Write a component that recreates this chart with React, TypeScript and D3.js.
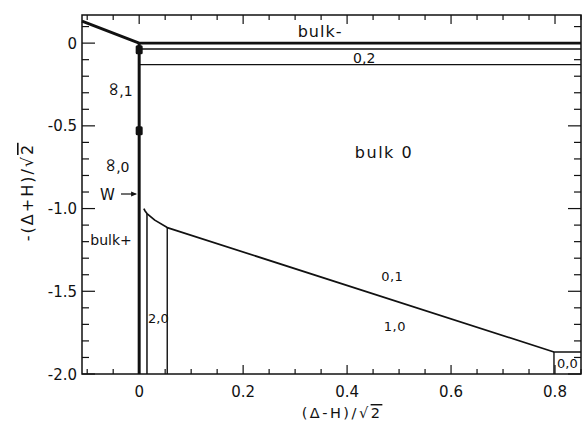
import { useEffect, useRef } from 'react';
import * as d3 from 'd3';

const xDomain = [-0.11, 0.85];
const yDomain = [-2.0, 0.17];
const xTickValues = [0, 0.2, 0.4, 0.6, 0.8];
const xTickLabels = ['0', '0.2', '0.4', '0.6', '0.8'];
const yTickValues = [0, -0.5, -1.0, -1.5, -2.0];
const yTickLabels = ['0', '-0.5', '-1.0', '-1.5', '-2.0'];

// phase boundaries, [x, y] in data units
const bulkMinusLine = [[-0.11, 0.133], [0, 0], [0.85, 0]];
const wallLine = [[0, 0], [0, -2.0]];
const line21 = [[0, -0.035], [0.85, -0.035]];
const line02 = [[0, -0.13], [0.85, -0.13]];
const lowerBoundary = [
  [0.009, -1.0], [0.011, -1.013], [0.015, -1.03], [0.03, -1.07],
  [0.054, -1.115], [0.798, -1.867], [0.85, -1.867],
];
const line20Left = [[0.015, -1.03], [0.015, -2.0]];
const line20Right = [[0.054, -1.115], [0.054, -2.0]];
const line00 = [[0.798, -1.867], [0.798, -2.0]];
const markers = [[0, -0.04], [0, -0.53]];

const labels = [
  { text: 'bulk-', x: 0.348, y: 0.036, size: 16, spacing: 1 },
  { text: '0,2', x: 0.433, y: -0.12, size: 14, spacing: 0 },
  { text: 'bulk 0', x: 0.471, y: -0.695, size: 16, spacing: 1.5 },
  { text: '2,0', x: 0.037, y: -1.69, size: 13, spacing: 0 },
  { text: '0,1', x: 0.487, y: -1.438, size: 13, spacing: 0.5 },
  { text: '1,0', x: 0.492, y: -1.74, size: 13, spacing: 0.5 },
];
const infLabels = [
  { rest: ',1', x: -0.046, y: -0.278 },
  { rest: ',0', x: -0.052, y: -0.737 },
];

export default function App() {
  const svgRef = useRef<SVGSVGElement>(null);
  const width = 582;
  const height = 424;

  useEffect(() => {
    const svg = d3.select(svgRef.current);
    svg.selectAll('*').remove();

    const x = d3.scaleLinear().domain(xDomain).range([82, 581]);
    const y = d3.scaleLinear().domain(yDomain).range([374, 15]);
    const font = 'DejaVu Sans, Verdana, sans-serif';
    const ink = '#111';

    const g = svg.append('g');

    // frame
    g.append('rect')
      .attr('x', x(xDomain[0])).attr('y', y(yDomain[1]))
      .attr('width', x(xDomain[1]) - x(xDomain[0]))
      .attr('height', y(yDomain[0]) - y(yDomain[1]))
      .attr('fill', 'none').attr('stroke', ink).attr('stroke-width', 1.5);

    // ticks (inward)
    const xMinor = d3.range(-0.1, 0.851, 0.05);
    const yMinor = d3.range(-2.0, 0.151, 0.1);
    const isMajorX = (v: number) => Math.abs(Math.round(v * 5) - v * 5) < 1e-6;
    const isMajorY = (v: number) => Math.abs(Math.round(v * 2) - v * 2) < 1e-6;

    xMinor.forEach(v => {
      const len = isMajorX(v) ? 9 : 5;
      g.append('line').attr('x1', x(v)).attr('x2', x(v))
        .attr('y1', y(yDomain[0])).attr('y2', y(yDomain[0]) - len)
        .attr('stroke', ink).attr('stroke-width', 1.2);
      g.append('line').attr('x1', x(v)).attr('x2', x(v))
        .attr('y1', y(yDomain[1])).attr('y2', y(yDomain[1]) + len)
        .attr('stroke', ink).attr('stroke-width', 1.2);
    });
    yMinor.forEach(v => {
      const len = isMajorY(v) ? 13 : 7;
      g.append('line').attr('x1', x(xDomain[0])).attr('x2', x(xDomain[0]) + len)
        .attr('y1', y(v)).attr('y2', y(v))
        .attr('stroke', ink).attr('stroke-width', 1.2);
      g.append('line').attr('x1', x(xDomain[1])).attr('x2', x(xDomain[1]) - len)
        .attr('y1', y(v)).attr('y2', y(v))
        .attr('stroke', ink).attr('stroke-width', 1.2);
    });

    // tick labels
    g.selectAll('.xl').data(xTickValues).join('text')
      .attr('x', d => x(d)).attr('y', 397)
      .attr('text-anchor', 'middle').attr('font-family', font).attr('font-size', 15)
      .attr('fill', ink)
      .text((d, i) => xTickLabels[i]);
    g.selectAll('.yl').data(yTickValues).join('text')
      .attr('x', 77).attr('y', d => y(d) + 5.5)
      .attr('text-anchor', 'end').attr('font-family', font).attr('font-size', 15)
      .attr('fill', ink)
      .text((d, i) => yTickLabels[i]);

    // axis titles
    const xt = g.append('text').attr('x', 342).attr('y', 418)
      .attr('text-anchor', 'middle').attr('font-family', font).attr('font-size', 14.5)
      .attr('letter-spacing', 2.5).attr('fill', ink);
    xt.append('tspan').text('(Δ-H)/√');
    xt.append('tspan').style('text-decoration', 'overline').text('2');
    const yt = g.append('text')
      .attr('transform', 'translate(33,192) rotate(-90)')
      .attr('text-anchor', 'middle').attr('font-family', font).attr('font-size', 16)
      .attr('letter-spacing', 2).attr('fill', ink);
    yt.append('tspan').text('-(Δ+H)/√');
    yt.append('tspan').style('text-decoration', 'overline').text('2');

    // lines
    const line = d3.line<number[]>().x(d => x(d[0])).y(d => y(d[1]));
    const draw = (pts: number[][], w: number) =>
      g.append('path').attr('d', line(pts)).attr('fill', 'none')
        .attr('stroke', ink).attr('stroke-width', w).attr('stroke-linejoin', 'round');

    draw(bulkMinusLine, 2.8);
    draw(line21, 1.5);
    draw(line02, 1.4);
    draw(lowerBoundary, 1.7);
    draw(line20Left, 1.5);
    draw(line20Right, 1.4);
    draw(line00, 1.4);
    draw(wallLine, 3);

    g.selectAll('.mk').data(markers).join('rect')
      .attr('x', d => x(d[0]) - 3.5).attr('y', d => y(d[1]) - 4.5)
      .attr('width', 7).attr('height', 9).attr('rx', 1.5)
      .attr('fill', ink);

    // region labels
    g.selectAll('.lab').data(labels).join('text')
      .attr('x', d => x(d.x)).attr('y', d => y(d.y))
      .attr('text-anchor', 'middle').attr('font-family', font)
      .attr('font-size', d => d.size)
      .attr('letter-spacing', d => d.spacing)
      .attr('fill', ink)
      .text(d => d.text);

    // ∞,n labels: infinity drawn upright (rotated 90°)
    infLabels.forEach(d => {
      const cx = x(d.x);
      const cy = y(d.y);
      g.append('text')
        .attr('transform', `translate(${cx},${cy}) rotate(90)`)
        .attr('text-anchor', 'middle').attr('dominant-baseline', 'central')
        .attr('font-family', font).attr('font-size', 19).attr('fill', ink)
        .text('∞');
      g.append('text').attr('x', cx + 4).attr('y', cy + 7)
        .attr('font-family', font).attr('font-size', 14).attr('fill', ink)
        .text(d.rest);
    });

    // bulk+
    g.append('text').attr('x', x(-0.054)).attr('y', y(-1.22))
      .attr('text-anchor', 'middle').attr('font-family', font).attr('font-size', 14)
      .attr('fill', ink).text('bulk+');

    // 0,0 label in box
    g.append('text').attr('x', x(0.804)).attr('y', y(-1.962))
      .attr('font-family', font).attr('font-size', 13).attr('fill', ink).text('0,0');

    // W arrow
    g.append('text').attr('x', x(-0.061)).attr('y', y(-0.95))
      .attr('text-anchor', 'middle').attr('font-family', font).attr('font-size', 15)
      .attr('fill', ink).text('W');
    const ay = y(-0.912);
    g.append('line').attr('x1', x(-0.035)).attr('x2', x(-0.007))
      .attr('y1', ay).attr('y2', ay).attr('stroke', ink).attr('stroke-width', 1.2);
    g.append('path')
      .attr('d', `M${x(-0.004)},${ay} l-6,-2.5 l0,5 z`)
      .attr('fill', ink);
  }, []);

  return (
    <svg ref={svgRef} width={width} height={height}
      style={{ position: 'absolute', left: 0, top: 0, background: '#fff' }} />
  );
}
